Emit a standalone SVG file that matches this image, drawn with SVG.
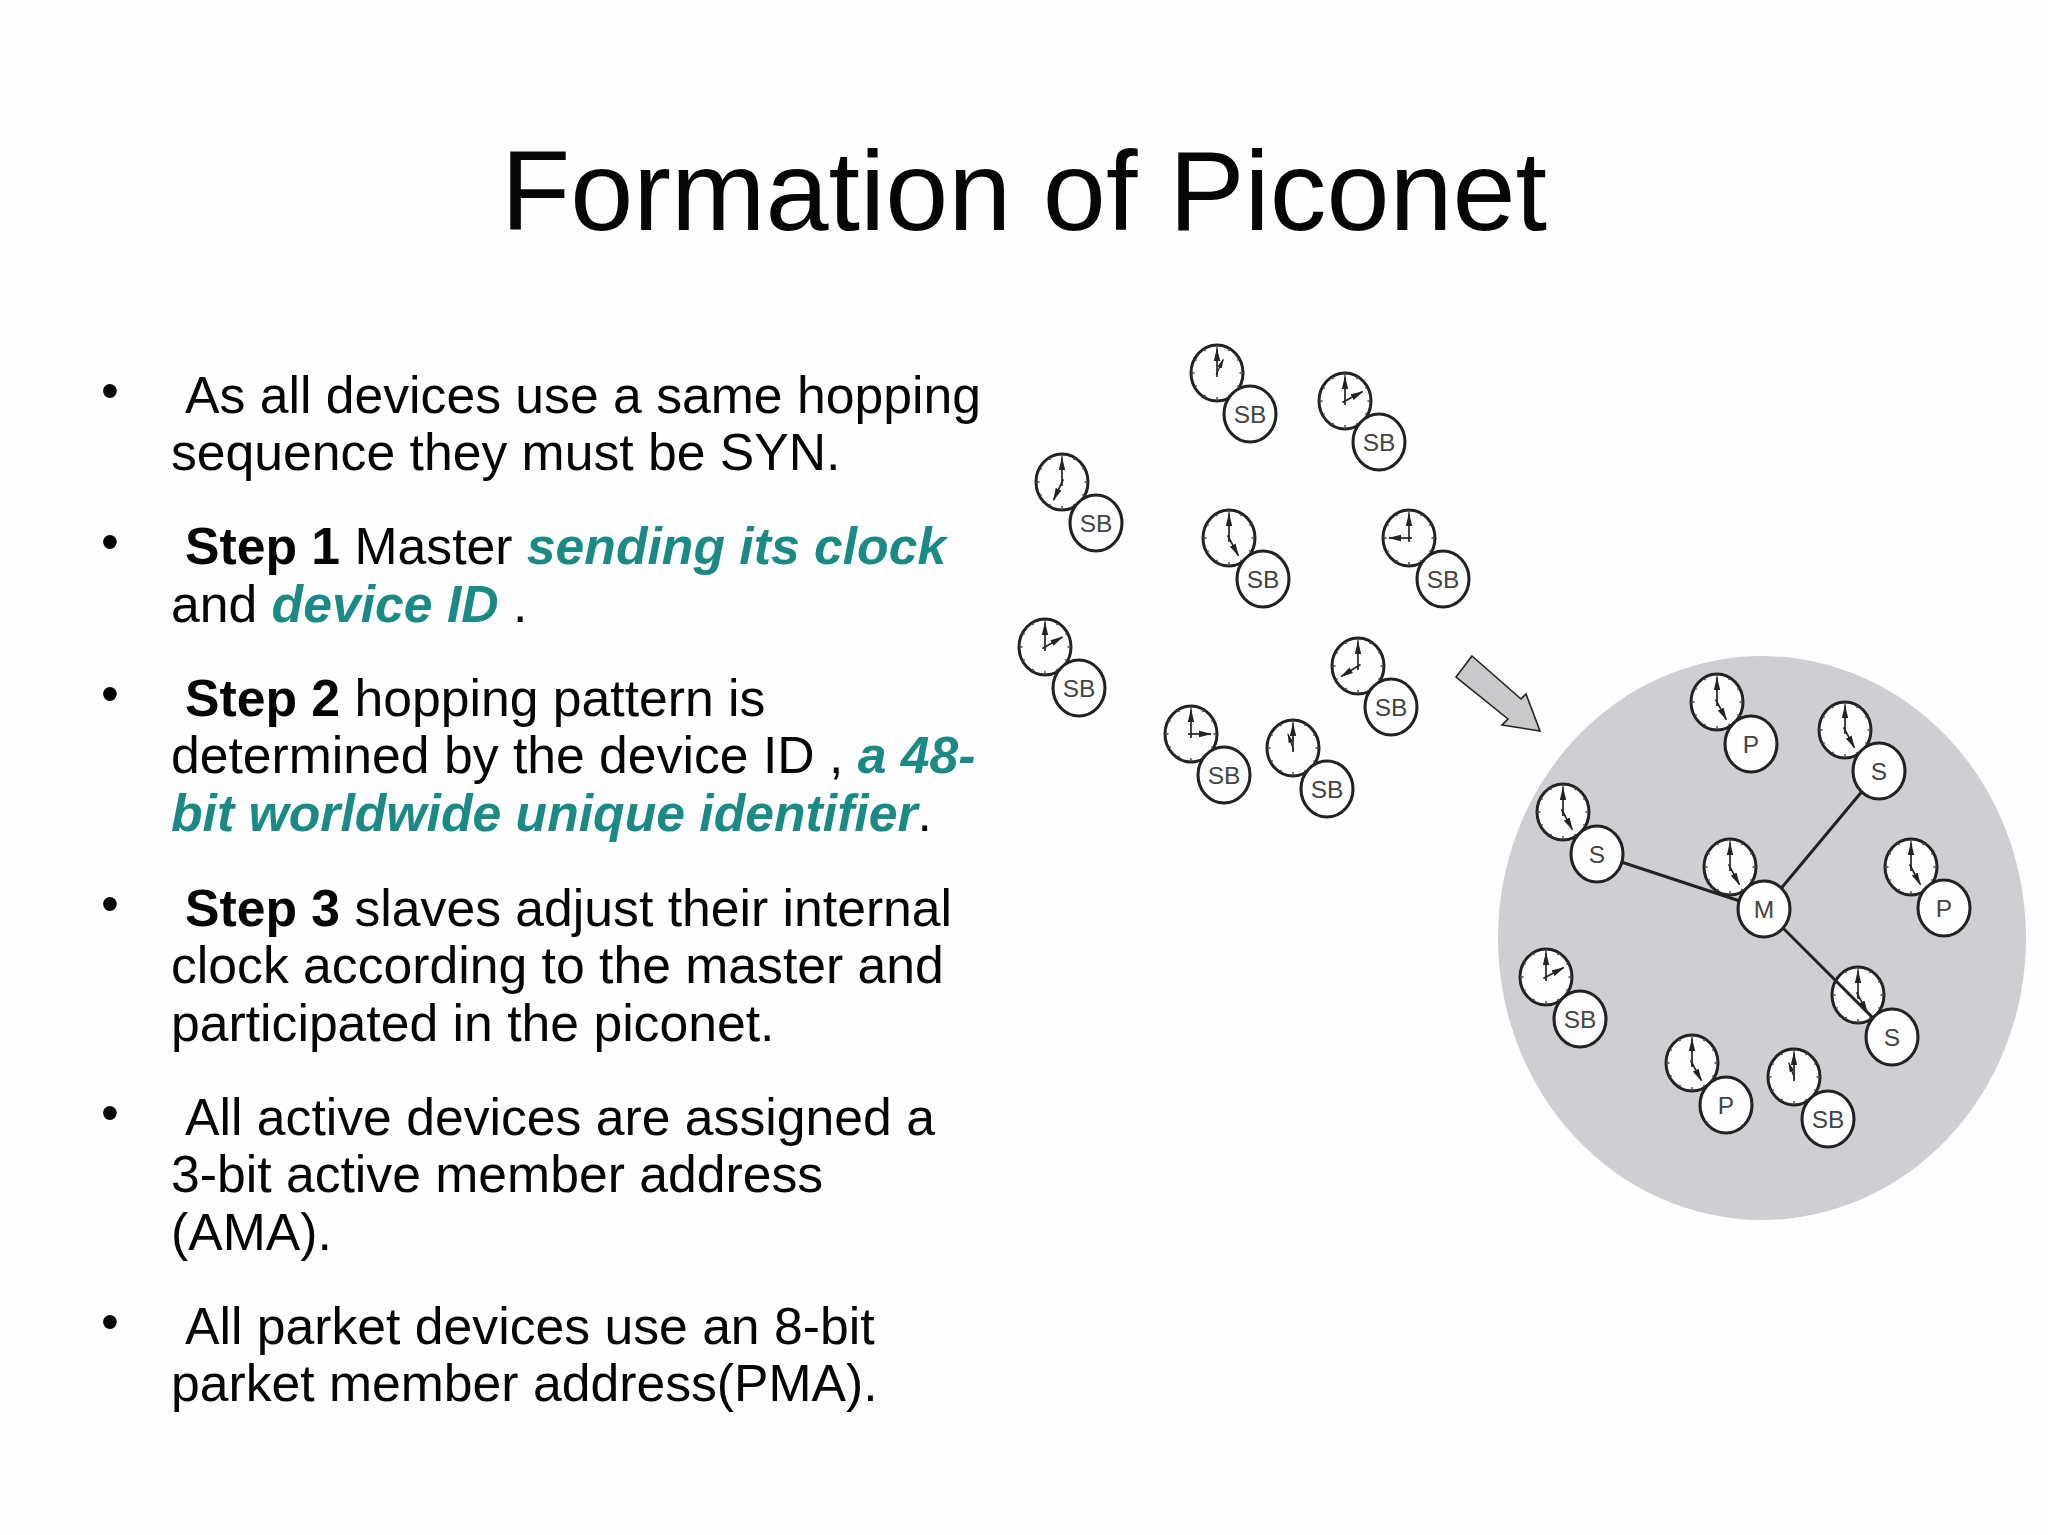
<svg xmlns="http://www.w3.org/2000/svg" xmlns:xlink="http://www.w3.org/1999/xlink" width="2048" height="1535" viewBox="0 0 2048 1535">
<style>
text{font-family:"Liberation Sans",Arial,sans-serif;fill:#060606}
.title{font-size:113.4px;text-anchor:middle}
.body{font-size:51.7px}
.bullet{font-size:51px}
.hl{font-weight:bold;font-style:italic;fill:#1b8a84}
.b{font-weight:bold}
.face{fill:#fdfdfd;stroke:#222;stroke-width:3}
.tick{fill:none;stroke:#444;stroke-width:1.4}
.hand{fill:none;stroke:#222;stroke-width:1.7}
.node{fill:#fdfdfd;stroke:#222;stroke-width:3.1}
.lab{font-size:24.5px;text-anchor:middle;fill:#444}
.link{stroke:#222;stroke-width:3;fill:none}
</style>
<defs>
<marker id="ah" markerUnits="userSpaceOnUse" markerWidth="14" markerHeight="8" refX="12" refY="4" orient="auto"><path d="M0 .8L13 4L0 7.2z" fill="#222"/></marker>
<g id="clock">
<ellipse class="face" rx="26" ry="28"/>
<path class="tick" d="M0-28V-24M13-24.2L11.7-21.8M22.5-14L20.3-12.6M26 0H22.5M22.5 14L20.3 12.6M13 24.2L11.7 21.8M0 28V24M-13 24.2L-11.7 21.8M-22.5 14L-20.3 12.6M-26 0H-22.5M-22.5-14L-20.3-12.6M-13-24.2L-11.7-21.8"/>
<path class="hand" d="M0 4V-24" marker-end="url(#ah)"/>
</g>
<path id="hour" class="hand" d="M0 3V-20" marker-end="url(#ah)"/>
</defs>
<rect width="2048" height="1535" fill="#fefefe"/>
<text class="title" x="1024" y="230">Formation of Piconet</text>
<g id="bullets">
<text class="bullet" x="101" y="408">•</text>
<text class="body" x="185" y="413">As all devices use a same hopping</text>
<text class="body" x="171" y="470">sequence they must be SYN.</text>
<text class="bullet" x="101" y="559">•</text>
<text class="body" x="185" y="564"><tspan class="b">Step 1</tspan> Master <tspan class="hl">sending its clock</tspan></text>
<text class="body" x="171" y="622">and <tspan class="hl">device ID</tspan> .</text>
<text class="bullet" x="101" y="711">•</text>
<text class="body" x="185" y="716"><tspan class="b">Step 2</tspan> hopping pattern is</text>
<text class="body" x="171" y="773">determined by the device ID , <tspan class="hl">a 48-</tspan></text>
<text class="body" x="171" y="831"><tspan class="hl">bit worldwide unique identifier</tspan>.</text>
<text class="bullet" x="101" y="921">•</text>
<text class="body" x="185" y="926"><tspan class="b">Step 3</tspan> slaves adjust their internal</text>
<text class="body" x="171" y="983">clock according to the master and</text>
<text class="body" x="171" y="1041">participated in the piconet.</text>
<text class="bullet" x="101" y="1130">•</text>
<text class="body" x="185" y="1135">All active devices are assigned a</text>
<text class="body" x="171" y="1192">3-bit active member address</text>
<text class="body" x="171" y="1250">(AMA).</text>
<text class="bullet" x="101" y="1339">•</text>
<text class="body" x="185" y="1344">All parket devices use an 8-bit</text>
<text class="body" x="171" y="1401">parket member address(PMA).</text>
</g>
<ellipse id="piconet" cx="1762" cy="938" rx="264" ry="282" fill="#cfcfd3"/>
<polygon id="arrow" points="1472,656 1521,699 1526,694 1540,731 1502,725 1508,719 1456,677" fill="#c9c9cb" stroke="#222" stroke-width="1.6"/>
<g id="clocks">
<g id="clock-1" transform="translate(1217,373)"><use xlink:href="#clock"/><use xlink:href="#hour" transform="rotate(25) scale(.75)"/></g>
<g id="clock-2" transform="translate(1345,401)"><use xlink:href="#clock"/><use xlink:href="#hour" transform="rotate(62)"/></g>
<g id="clock-3" transform="translate(1062,482)"><use xlink:href="#clock"/><use xlink:href="#hour" transform="rotate(205)"/></g>
<g id="clock-4" transform="translate(1229,538)"><use xlink:href="#clock"/><use xlink:href="#hour" transform="rotate(152)"/></g>
<g id="clock-5" transform="translate(1409,538)"><use xlink:href="#clock"/><use xlink:href="#hour" transform="rotate(270)"/></g>
<g id="clock-6" transform="translate(1045,647)"><use xlink:href="#clock"/><use xlink:href="#hour" transform="rotate(60)"/></g>
<g id="clock-7" transform="translate(1358,666)"><use xlink:href="#clock"/><use xlink:href="#hour" transform="rotate(238)"/></g>
<g id="clock-8" transform="translate(1191,734)"><use xlink:href="#clock"/><use xlink:href="#hour" transform="rotate(90)"/></g>
<g id="clock-9" transform="translate(1293,748)"><use xlink:href="#clock"/><use xlink:href="#hour" transform="rotate(340) scale(.75)"/></g>
<g id="clock-p1" transform="translate(1717,702)"><use xlink:href="#clock"/><use xlink:href="#hour" transform="rotate(152)"/></g>
<g id="clock-s1" transform="translate(1845,730)"><use xlink:href="#clock"/><use xlink:href="#hour" transform="rotate(152)"/></g>
<g id="clock-s2" transform="translate(1563,812)"><use xlink:href="#clock"/><use xlink:href="#hour" transform="rotate(152)"/></g>
<g id="clock-m" transform="translate(1730,867)"><use xlink:href="#clock"/><use xlink:href="#hour" transform="rotate(152)"/></g>
<g id="clock-p2" transform="translate(1911,867)"><use xlink:href="#clock"/><use xlink:href="#hour" transform="rotate(152)"/></g>
<g id="clock-sb10" transform="translate(1546,977)"><use xlink:href="#clock"/><use xlink:href="#hour" transform="rotate(62)"/></g>
<g id="clock-s3" transform="translate(1858,995)"><use xlink:href="#clock"/><use xlink:href="#hour" transform="rotate(152)"/></g>
<g id="clock-p3" transform="translate(1692,1063)"><use xlink:href="#clock"/><use xlink:href="#hour" transform="rotate(152)"/></g>
<g id="clock-sb11" transform="translate(1794,1077)"><use xlink:href="#clock"/><use xlink:href="#hour" transform="rotate(340) scale(.75)"/></g>
</g>
<g id="connectors">
<line class="link" x1="1597" y1="854" x2="1764" y2="909"/>
<line class="link" x1="1879" y1="771" x2="1764" y2="909"/>
<line class="link" x1="1892" y1="1037" x2="1764" y2="909"/>
</g>
<g id="nodes">
<g id="sb-1" transform="translate(1250,414)"><ellipse class="node" rx="26" ry="28"/><text class="lab" y="8.5">SB</text></g>
<g id="sb-2" transform="translate(1379,442)"><ellipse class="node" rx="26" ry="28"/><text class="lab" y="8.5">SB</text></g>
<g id="sb-3" transform="translate(1096,523)"><ellipse class="node" rx="26" ry="28"/><text class="lab" y="8.5">SB</text></g>
<g id="sb-4" transform="translate(1263,579)"><ellipse class="node" rx="26" ry="28"/><text class="lab" y="8.5">SB</text></g>
<g id="sb-5" transform="translate(1443,579)"><ellipse class="node" rx="26" ry="28"/><text class="lab" y="8.5">SB</text></g>
<g id="sb-6" transform="translate(1079,688)"><ellipse class="node" rx="26" ry="28"/><text class="lab" y="8.5">SB</text></g>
<g id="sb-7" transform="translate(1391,707)"><ellipse class="node" rx="26" ry="28"/><text class="lab" y="8.5">SB</text></g>
<g id="sb-8" transform="translate(1224,775)"><ellipse class="node" rx="26" ry="28"/><text class="lab" y="8.5">SB</text></g>
<g id="sb-9" transform="translate(1327,789)"><ellipse class="node" rx="26" ry="28"/><text class="lab" y="8.5">SB</text></g>
<g id="p-1" transform="translate(1751,744)"><ellipse class="node" rx="26" ry="28"/><text class="lab" y="8.5">P</text></g>
<g id="s-1" transform="translate(1879,771)"><ellipse class="node" rx="26" ry="28"/><text class="lab" y="8.5">S</text></g>
<g id="s-2" transform="translate(1597,854)"><ellipse class="node" rx="26" ry="28"/><text class="lab" y="8.5">S</text></g>
<g id="m" transform="translate(1764,909)"><ellipse class="node" rx="26" ry="28"/><text class="lab" y="8.5">M</text></g>
<g id="p-2" transform="translate(1944,908)"><ellipse class="node" rx="26" ry="28"/><text class="lab" y="8.5">P</text></g>
<g id="sb-10" transform="translate(1580,1019)"><ellipse class="node" rx="26" ry="28"/><text class="lab" y="8.5">SB</text></g>
<g id="s-3" transform="translate(1892,1037)"><ellipse class="node" rx="26" ry="28"/><text class="lab" y="8.5">S</text></g>
<g id="p-3" transform="translate(1726,1105)"><ellipse class="node" rx="26" ry="28"/><text class="lab" y="8.5">P</text></g>
<g id="sb-11" transform="translate(1828,1119)"><ellipse class="node" rx="26" ry="28"/><text class="lab" y="8.5">SB</text></g>
</g>
</svg>
